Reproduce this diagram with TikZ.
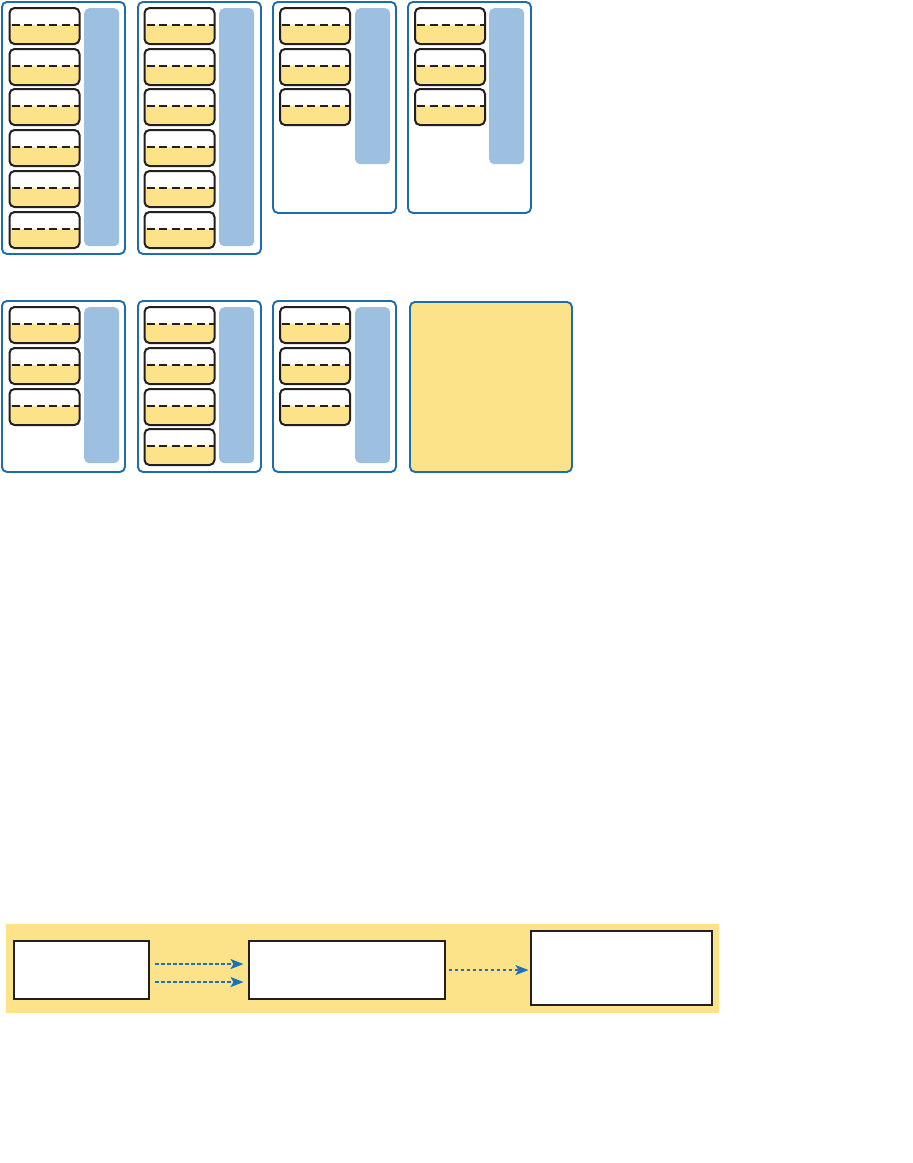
\documentclass[tikz,border=0pt]{standalone}
\usetikzlibrary{arrows.meta,calc}
\definecolor{ylw}{HTML}{FCE38A}
\definecolor{barc}{HTML}{9DC0E0}
\definecolor{frame}{HTML}{1B6DAE}
\definecolor{ink}{HTML}{231F20}
\definecolor{arr}{HTML}{1A73B8}
\begin{document}
\begin{tikzpicture}[x=1pt,y=-1pt,
  card/.style={draw=frame,line width=1.9pt,rounded corners=5pt,fill=white,minimum width=123pt,inner sep=0pt,anchor=north west},
  slot/.style={draw=ink,line width=2pt,rounded corners=5pt,fill=ylw,minimum width=70pt,minimum height=36pt,inner sep=0pt,anchor=north west,
    path picture={\fill[white] (path picture bounding box.north west) rectangle ([yshift=1pt]path picture bounding box.east);
      \draw[ink,line width=2pt,dash pattern=on 8pt off 4.5pt] ([yshift=1pt,xshift=2pt]path picture bounding box.west) -- ([yshift=1pt]path picture bounding box.east);}},
  barstyle/.style={fill=barc,rounded corners=5pt,minimum width=35pt,inner sep=0pt,anchor=north west},
  bx/.style={draw=ink,line width=2.1pt,fill=white,inner sep=0pt,anchor=north west},
  flow/.style={arr,line width=1.9pt,dash pattern=on 3.5pt off 2.5pt,-{Stealth[length=13pt,width=10pt,inset=3pt]}}]
\useasboundingbox (0,0) rectangle (913,1163);
% ---- row 1 ----
\node[card,minimum height=252pt] (c1) at (1,1) {};
\node[card,minimum height=252pt] (c2) at (137,1) {};
\node[card,minimum height=211pt] (c3) at (272,1) {};
\node[card,minimum height=211pt] (c4) at (407,1) {};
\node[barstyle,minimum height=238pt] (b1) at (84,8) {};
\node[barstyle,minimum height=238pt] (b2) at (219,8) {};
\node[barstyle,minimum height=156pt] (b3) at (355,8) {};
\node[barstyle,minimum height=156pt] (b4) at (489,8) {};
\foreach \i/\y in {1/7,2/48,3/88,4/129,5/170,6/211}{
  \node[slot] (s1\i) at (8.5,\y) {};
  \node[slot] (s2\i) at (143.5,\y) {};
}
\foreach \i/\y in {1/7,2/48,3/88}{
  \node[slot] (s3\i) at (279,\y) {};
  \node[slot] (s4\i) at (414,\y) {};
}
% ---- row 2 ----
\node[card,minimum height=171pt] (d1) at (1,300) {};
\node[card,minimum height=171pt] (d2) at (137,300) {};
\node[card,minimum height=171pt] (d3) at (272,300) {};
\node[card,minimum width=162pt,minimum height=170pt,fill=ylw] (d4) at (409,301) {};
\node[barstyle,minimum height=156pt] (e1) at (84,307) {};
\node[barstyle,minimum height=156pt] (e2) at (219,307) {};
\node[barstyle,minimum height=156pt] (e3) at (355,307) {};
\foreach \i/\y in {1/306,2/347,3/388}{
  \node[slot] (t1\i) at (8.5,\y) {};
  \node[slot] (t2\i) at (143.5,\y) {};
  \node[slot] (t3\i) at (279,\y) {};
}
\node[slot] (t24) at (143.5,428) {};
% ---- bottom band ----
\node[fill=ylw,minimum width=713pt,minimum height=89pt,inner sep=0pt,anchor=north west] (band) at (6,924) {};
\node[bx,minimum width=135pt,minimum height=58pt] (a) at (13,939.5) {};
\node[bx,minimum width=196pt,minimum height=58pt] (b) at (247.5,939.5) {};
\node[bx,minimum width=181pt,minimum height=74pt] (c) at (529.5,929.5) {};
\draw[flow,shorten <=5pt,shorten >=4pt] ([yshift=5.5pt]a.east) -- ([yshift=5.5pt]b.west);
\draw[flow,shorten <=5pt,shorten >=4pt] ([yshift=-12.5pt]a.east) -- ([yshift=-12.5pt]b.west);
\draw[flow,shorten <=3pt,shorten >=1pt] ([yshift=-0.5pt]b.east) -- ([yshift=-0.5pt]b.east -| c.west);
\end{tikzpicture}
\end{document}
